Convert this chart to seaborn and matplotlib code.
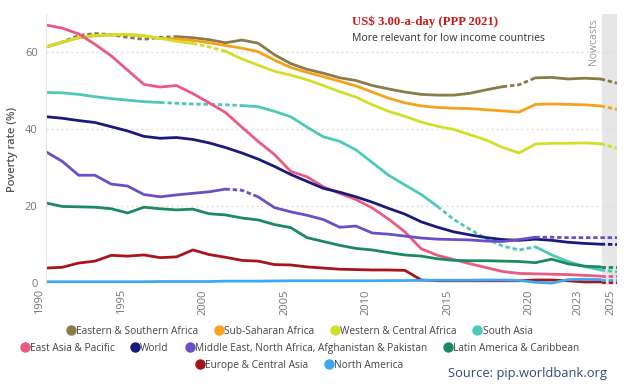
import matplotlib
matplotlib.use("Agg")
import matplotlib.pyplot as plt
import matplotlib.transforms as mtransforms
from matplotlib.lines import Line2D
import seaborn as sns
import pandas as pd

years = list(range(1990, 2026))

regions = [
    "Eastern & Southern Africa", "Sub-Saharan Africa", "Western & Central Africa",
    "South Asia", "East Asia & Pacific", "World",
    "Middle East, North Africa, Afghanistan & Pakistan", "Latin America & Caribbean",
    "Europe & Central Asia", "North America",
]

esa = [61.3, 62.6, 64.3, 64.8, 64.5, 63.8, 63.3, 63.8, 64.0, 63.7, 63.2, 62.4, 63.1, 62.3,
       59.3, 57.0, 55.5, 54.5, 53.3, 52.6, 51.3, 50.4, 49.6, 49.0, 48.8, 48.8, 49.3, 50.2,
       51.0, 51.5, 53.3, 53.4, 53.0, 53.2, 53.0, 51.9]
ssa = [61.3, 62.5, 63.7, 64.2, 64.4, 64.5, 64.2, 63.5, 63.4, 63.0, 62.4, 61.7, 61.0, 60.1,
       57.9, 56.0, 54.7, 53.6, 52.4, 51.2, 49.6, 48.0, 46.8, 46.0, 45.6, 45.4, 45.3, 45.0,
       44.7, 44.4, 46.4, 46.5, 46.4, 46.3, 46.0, 45.1]
wca = [61.4, 62.6, 63.8, 64.3, 64.5, 64.6, 64.3, 63.5, 62.8, 62.2, 61.3, 60.2, 58.2, 56.6,
       55.0, 54.0, 52.8, 51.3, 49.7, 48.3, 46.3, 44.6, 43.3, 41.8, 40.7, 39.9, 38.5, 37.1,
       35.2, 33.8, 36.1, 36.3, 36.3, 36.4, 36.2, 35.0]
sas = [49.5, 49.4, 49.0, 48.4, 47.9, 47.5, 47.1, 46.9, 46.7, 46.5, 46.4, 46.3, 46.1, 45.8,
       44.6, 43.2, 40.5, 38.0, 36.8, 34.6, 31.3, 28.0, 25.5, 23.0, 19.9, 16.5, 13.9, 11.5,
       9.6, 8.6, 9.4, 7.3, 5.6, 4.3, 3.4, 2.9]
eap = [67.0, 66.2, 64.7, 62.0, 59.0, 55.3, 51.6, 50.9, 51.3, 49.2, 46.8, 44.3, 40.5, 36.8,
       33.4, 29.0, 27.6, 25.0, 23.3, 21.7, 19.5, 16.6, 13.3, 8.9, 7.2, 6.1, 5.0, 4.0,
       3.0, 2.5, 2.4, 2.3, 2.2, 2.0, 1.8, 1.8]
wld = [43.2, 42.8, 42.2, 41.7, 40.6, 39.5, 38.1, 37.6, 37.8, 37.3, 36.4, 35.2, 33.8, 32.2,
       30.3, 28.2, 26.4, 24.6, 23.6, 22.4, 21.0, 19.4, 17.9, 15.9, 14.5, 13.3, 12.5, 11.8,
       11.3, 11.1, 11.4, 11.1, 10.6, 10.3, 10.1, 10.0]
mna = [34.1, 31.6, 28.0, 28.0, 25.7, 25.2, 23.0, 22.4, 22.9, 23.3, 23.7, 24.4, 24.1, 22.4,
       19.6, 18.5, 17.6, 16.5, 14.5, 14.8, 13.0, 12.7, 12.2, 11.7, 11.4, 11.3, 11.2, 10.9,
       10.8, 11.3, 11.9, 11.9, 11.8, 11.8, 11.8, 11.8]
lac = [20.8, 19.9, 19.8, 19.7, 19.3, 18.2, 19.7, 19.3, 19.0, 19.2, 18.0, 17.7, 16.9, 16.4,
       15.2, 14.4, 11.8, 10.8, 9.8, 9.0, 8.6, 7.9, 7.3, 7.0, 6.3, 5.9, 5.8, 5.8,
       5.7, 5.6, 5.3, 6.2, 5.0, 4.4, 4.2, 4.2]
eca = [3.9, 4.1, 5.2, 5.7, 7.2, 7.0, 7.3, 6.6, 6.8, 8.6, 7.4, 6.7, 5.9, 5.7,
       4.8, 4.7, 4.2, 3.9, 3.6, 3.5, 3.4, 3.4, 3.3, 0.8, 0.6, 0.6, 0.6, 0.6,
       0.6, 0.6, 0.8, 0.8, 0.6, 0.3, 0.3, 0.3]
nac = [0.35, 0.35, 0.35, 0.35, 0.35, 0.35, 0.35, 0.4, 0.4, 0.4, 0.4, 0.5, 0.5, 0.5,
       0.55, 0.6, 0.6, 0.6, 0.6, 0.6, 0.6, 0.65, 0.65, 0.7, 0.75, 0.75, 0.75, 0.8,
       0.8, 0.7, 0.2, 0.0, 0.9, 1.0, 0.9, 0.9]

series = [esa, ssa, wca, sas, eap, wld, mna, lac, eca, nac]

# interpolated / nowcast stretches drawn dashed
dashed_ranges = {
    "Eastern & Southern Africa": [(1990, 1998), (2018, 2020), (2024, 2025)],
    "Sub-Saharan Africa": [(2024, 2025)],
    "Western & Central Africa": [(1999, 2001), (2024, 2025)],
    "South Asia": [(1997, 2002), (2014, 2020), (2024, 2025)],
    "East Asia & Pacific": [(2024, 2025)],
    "World": [(2024, 2025)],
    "Middle East, North Africa, Afghanistan & Pakistan": [(2001, 2003), (2020, 2025)],
    "Latin America & Caribbean": [(2024, 2025)],
    "Europe & Central Asia": [(2024, 2025)],
    "North America": [(2024, 2025)],
}

colors = ["#8B7B47", "#F7A21B", "#D2DF28", "#4EC9B9", "#EA5A82", "#1A1A7E",
          "#6B4FC6", "#1B8A60", "#A8141C", "#3DA9F2"]
palette = dict(zip(regions, colors))

# build long table with segments
rows = []
seg_id = 0
for reg, vals in zip(regions, series):
    def is_dashed(y0):
        return any(a <= y0 and y0 + 1 <= b for a, b in dashed_ranges[reg])
    cur_kind = None
    for i in range(len(years) - 1):
        kind = "dashed" if is_dashed(years[i]) else "solid"
        if kind != cur_kind:
            seg_id += 1
            cur_kind = kind
            rows.append((reg, years[i], vals[i], seg_id, kind))
        rows.append((reg, years[i + 1], vals[i + 1], seg_id, kind))
df = pd.DataFrame(rows, columns=["region", "year", "value", "seg", "kind"])

sns.set_theme(style="white")
plt.rcParams["font.family"] = ["Open Sans", "DejaVu Sans"]

fig = plt.figure(figsize=(6.32, 3.91), dpi=100)
ax = fig.add_axes([46 / 632, 1 - 285 / 391, (617 - 46) / 632, (285 - 13.5) / 391])

ax.axvspan(2024.05, 2025, color="#E6E6E6", zorder=0, lw=0)

sns.lineplot(data=df, x="year", y="value", hue="region", style="kind", units="seg",
             estimator=None, hue_order=regions, palette=palette,
             style_order=["solid", "dashed"], dashes={"solid": "", "dashed": (1.6, 1.0)},
             legend=False, lw=2.0, sort=False, ax=ax)

ax.set_xlim(1990, 2025)
ax.set_ylim(-0.5, 70)
ax.set_yticks([0, 20, 40, 60])
ax.set_xticks([1990, 1995, 2000, 2005, 2010, 2015, 2020, 2023, 2025])
ax.set_xticklabels(["1990", "1995", "2000", "2005", "2010", "2015", "2020", "2023", "2025"],
                   rotation=90)
for yv in [20, 40, 60]:
    ax.axhline(yv, color="#D9D9D9", lw=0.9, ls=(0, (1.5, 2.5)), zorder=0.5)

for s in ["top", "right", "bottom"]:
    ax.spines[s].set_visible(False)
ax.spines["left"].set_color("#E2E2E2")
ax.spines["left"].set_linewidth(0.8)
ax.tick_params(axis="both", labelsize=8, colors="#757575", length=0, pad=3)
ax.tick_params(axis="y", length=4, color="#DDDDDD", pad=2)
off = mtransforms.ScaledTranslation(-6 / 100, 0, fig.dpi_scale_trans)
for lab in ax.get_xticklabels():
    lab.set_transform(lab.get_transform() + off)

ax.set_xlabel("")
ax.set_ylabel("Poverty rate (%)", fontsize=8, color="#555555", fontweight="semibold",
              labelpad=5)

ax.text(2023.55, 68.8, "Nowcasts", rotation=90, ha="center", va="top",
        fontsize=7.5, color="#999999")

fig.text(352 / 632, 1 - 22 / 391, "US$ 3.00-a-day (PPP 2021)", color="#CC1A1A",
         fontsize=9.2, fontweight="bold", family=["Liberation Serif", "DejaVu Serif"],
         ha="left", va="center")
fig.text(352 / 632, 1 - 38.5 / 391, "More relevant for low income countries",
         color="#333333", fontsize=7.6, ha="left", va="center")

def handles(names):
    return [Line2D([0], [0], marker="o", ls="", markersize=6.5,
                   markerfacecolor=palette[n], markeredgecolor=palette[n]) for n in names]

legend_rows = [regions[0:4], regions[4:8], regions[8:10]]
legend_y = [1 - 331 / 391, 1 - 348.5 / 391, 1 - 365.5 / 391]
for names, yy in zip(legend_rows, legend_y):
    fig.legend(handles(names), names, loc="center", bbox_to_anchor=(300 / 632, yy),
               ncol=len(names), frameon=False, fontsize=7.3, handlelength=0.7,
               handletextpad=0.15, columnspacing=1.7, borderpad=0, borderaxespad=0,
               labelcolor="#444444")

fig.text(607 / 632, 1 - 373 / 391, "Source: pip.worldbank.org", color="#2E4A7D",
         fontsize=9.3, ha="right", va="center")

fig.savefig("out.png", dpi=100)
